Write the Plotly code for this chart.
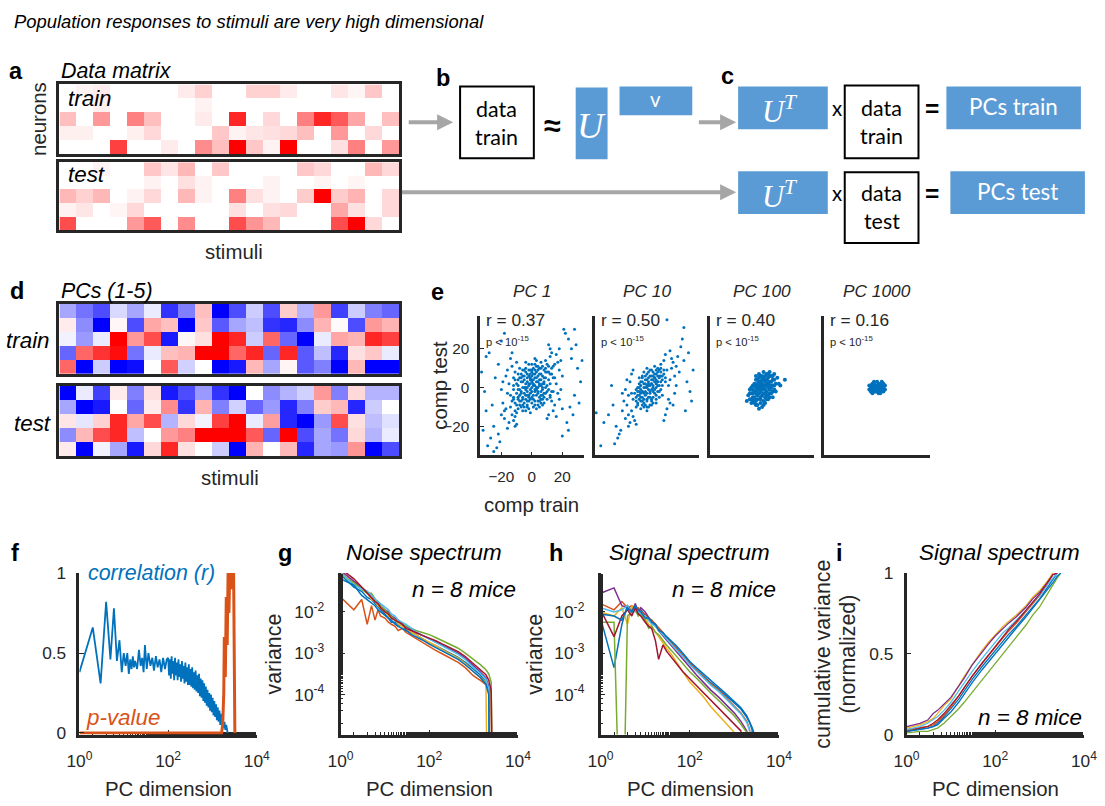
import plotly.graph_objects as go

# ---------------------------------------------------------------- geometry / style
# Positions below are written on a 1105 x 806 layout grid; LAYOUT_* maps that
# grid onto the figure canvas (which sits inside the page body margin).
FW, FH = 1110, 806
BODY_MARGIN = 8
LAYOUT_SX, LAYOUT_SY = 0.98, 0.978
LAYOUT_OX, LAYOUT_OY = 2.5, 0.5
FONT_K = 1 / LAYOUT_SX

INK = "#262626"
SANS = "Liberation Sans, Arial, sans-serif"
DIAG = "Lato, Open Sans, sans-serif"
SERIF = "Liberation Serif, DejaVu Serif, serif"
BOX_BLUE = "#5B9BD5"
ARROW_GRAY = "#A6A6A6"
PT_BLUE = "#0072BD"
MOUSE_COLORS = ["#0072BD", "#D95319", "#EDB120", "#7E2F8E",
                "#77AC30", "#4DBEEE", "#A2142F", "#0072BD"]

# ---------------------------------------------------------------- data
# (a) neural responses, 5 neurons x 20 stimuli (0 = none, 1 = max)
resp_train = [
    [0, 0.05, 0.08, 0, 0, 0, 0, 0.08, 0.18, 0, 0, 0.18, 0.18, 0.08, 0, 0, 0.10, 0.04, 0.22, 0],
    [0, 0, 0.06, 0, 0, 0, 0, 0, 0.05, 0, 0, 0, 0, 0, 0, 0, 0, 0, 0, 0],
    [0.25, 0, 0.40, 0, 0.50, 0.25, 0, 0, 0.08, 0, 0.85, 0, 0.15, 0, 0.50, 0.85, 0.65, 0.35, 0, 0.25],
    [0.06, 0.06, 0, 0, 0.06, 0.15, 0, 0, 0, 0.22, 0.05, 0.10, 0.12, 0.15, 0.25, 0, 0.40, 0, 0.15, 0],
    [0, 0, 0, 0.75, 0, 0, 0.08, 0, 0.45, 0.25, 1.0, 0.22, 0.05, 1.0, 0, 0, 0.12, 0.50, 0, 0.40],
]
resp_test = [
    [0, 0, 0.05, 0, 0, 0.22, 0.10, 0.28, 0, 0.22, 0, 0, 0, 0, 0.22, 0.15, 0, 0, 0.28, 0.15],
    [0, 0, 0, 0, 0, 0.05, 0, 0.12, 0.05, 0, 0, 0, 0.05, 0, 0, 0.04, 0, 0.04, 0, 0],
    [0.28, 0.18, 0.28, 0, 0.05, 0.15, 0, 0.28, 0.05, 0, 0.50, 0.12, 0.05, 0, 0.20, 1.0, 0.20, 0.30, 0, 0.15],
    [0.05, 0.10, 0, 0.04, 0.15, 0, 0, 0, 0, 0, 0.12, 0, 0.12, 0.15, 0, 0, 0.35, 0.12, 0, 0.15],
    [0.70, 0, 0, 0, 0.40, 0.65, 0, 0.45, 0, 0, 0.70, 0.42, 0.28, 0, 0, 0, 0.70, 1.0, 0.15, 0],
]

# (d) first five PCs, 5 PCs x 20 stimuli (signed, -1 .. 1)
pcs_train = [
    [-0.35, -0.55, -0.70, -0.15, -0.35, -0.08, -0.80, -0.50, 0.25, -1.0, -0.70, -0.20, -0.70, 0.20, -0.30, 0.40, -0.75, -0.20, -0.50, -0.60],
    [0.08, -0.45, -1.0, 0.03, -0.70, 0.35, 0.25, -1.0, 0.22, -0.65, -0.35, -0.25, -0.80, -0.85, -0.45, 0.30, 0.02, -0.70, 0.40, 0.30],
    [-0.05, -0.40, -0.08, 1.0, 0.40, 0.70, -0.90, 0.03, 0.12, 1.0, 0.85, -0.20, 0.60, -0.60, -1.0, -0.08, 0.35, 0.30, 0.85, 0.75],
    [-0.60, 0.60, 0.80, 0.95, -0.55, -0.08, 0.25, 0.30, 1.0, 1.0, 0.60, 0.85, -0.60, 0.85, -0.65, -0.25, -0.85, 0.12, 0.22, -0.08],
    [0.60, -1.0, -0.20, -1.0, -0.95, 0.0, 0.65, -0.18, 0.0, -1.0, -0.90, 0.28, -0.35, 0.04, -0.65, -0.50, -1.0, 0.28, -1.0, -1.0],
]
pcs_test = [
    [-1.0, -0.08, -0.75, 0.08, -0.50, 0.12, -0.90, -0.70, -0.40, -0.80, -1.0, 0.0, -0.45, -0.30, -0.18, 0.40, -0.50, 0.15, -0.30, -0.30],
    [-0.35, -1.0, -0.90, 0.0, -0.60, 0.08, 0.45, -0.80, 0.30, -0.50, -0.18, -0.60, -0.40, -0.85, -0.50, 0.20, 0.28, -0.85, -0.20, 0.0],
    [0.10, -0.10, 0.18, 0.85, 0.35, 0.70, -0.30, 0.15, -0.05, 0.75, 1.0, -0.08, 0.38, -0.85, -1.0, -0.40, 0.70, 0.12, -0.25, -0.12],
    [-0.45, 0.28, 0.70, 0.85, -0.25, 0.0, 0.40, 0.50, 1.0, 1.0, 1.0, 0.65, -0.60, 1.0, -0.70, -0.35, -0.55, 0.15, -0.30, -0.08],
    [0.08, -1.0, -0.05, -0.35, -0.90, 0.15, 0.85, 0.12, 0.0, -0.20, -1.0, 0.30, 0.0, 0.28, -0.85, -0.35, -0.40, 0.42, -1.0, -0.70],
]

# (e) component score on train vs test repeats, (train, test)
pc1_scores = [
    (-3, -2), (2, 1), (5, 4), (-6, -5), (0, 3), (4, -2), (-2, 6), (7, 2), (-8, -1), (1, -6),
    (3, 8), (-4, 2), (6, -4), (-1, -3), (9, 5), (-7, 3), (2, -9), (-5, -8), (8, 9), (0, 0),
    (-3, 7), (4, 3), (-9, -6), (6, 7), (1, 4), (-2, -7), (10, 1), (-6, 0), (3, -4), (-1, 9),
    (7, -1), (-4, -4), (5, 10), (-8, 5), (2, -2), (-10, -9), (8, 3), (0, -5), (-5, 4), (4, 6),
    (-3, -10), (9, -3), (1, 7), (-7, -3), (6, 1), (-2, 2), (3, 11), (-9, 1), (5, -7), (0, 8),
    (-4, -1), (7, 6), (-6, -9), (2, 5), (-1, -1), (11, 8), (-8, -7), (4, 0), (-3, 5), (6, -8),
    (1, 2), (-5, 9), (8, -5), (-2, -4), (3, 3), (-7, 7), (10, -2), (0, -8), (-4, 10), (5, 2),
    (-1, 4), (9, 10), (-6, -6), (2, 9), (-3, 0), (7, -6), (-9, 4), (4, -9), (0, 6), (-2, -11),
    (-1, 2), (3, -1), (5, 7), (-4, -6), (8, 5), (-7, -2), (2, 12), (-3, -9), (11, 4), (-10, -3),
    (6, -2), (-5, 6), (0, -2), (4, 9), (-8, -9), (12, 7), (-2, 1), (7, 11), (-11, -8), (1, -4),
    (9, 0), (-6, 3), (3, 5), (-1, -6), (13, 10), (-9, -11), (5, -5), (-4, 8), (10, 12), (-12, -5),
    (2, -7), (6, 4), (-3, -4), (8, -3), (-7, 5), (1, 10), (-5, -3), (11, -1), (-9, 7), (4, -3),
    (-2, 12), (7, -9), (0, 4), (-6, -12), (12, 2), (-4, 0), (3, 14), (-10, 2), (9, 8), (-1, -13),
    (5, 1), (-8, -4), (2, 7), (-3, 3), (10, -6), (-6, 9), (6, 13), (-11, -12), (1, -10), (8, 2),
    (-5, 0), (4, 11), (-2, -5), (11, 11), (-9, -1), (3, -11), (-7, -7), (13, -2), (0, 9), (-4, 13),
    (7, 0), (-1, 7), (5, -10), (-12, 1), (9, 14), (-3, -7), (2, -1), (-8, 10), (6, -6), (-10, -13),
    (14, 5), (-5, -10), (1, 1), (8, -8), (-6, 6), (4, -7), (-2, 9), (10, 8), (-7, -10), (3, 0),
    (12, -4), (-9, -5), (0, 12), (-11, 4), (6, 10), (-4, -12), (2, 15), (-13, -7), (7, -4), (-1, 5),
    (-14, -10), (15, 12), (-12, 5), (13, -7), (-16, -3), (18, 9), (-11, -15), (12, 16), (-18, -12), (16, 2),
    (-13, 11), (14, -12), (-15, -18), (19, 14), (-10, 13), (11, -14), (-17, 6), (17, -3), (-12, -6), (13, 18),
    (-19, -8), (20, 6), (-14, 15), (15, -9), (-11, -20), (12, 20), (-16, 9), (18, -6), (-13, -14), (14, 11),
    (-20, -1), (16, 17), (-12, -17), (10, -16), (-15, 2), (19, -1), (-18, -16), (13, 7), (-10, -19), (17, 13),
    (-14, -4), (11, 22), (-17, -11), (20, -11), (-11, 8), (15, 5), (-19, 3), (12, -5), (-13, 18), (18, 20),
    (-16, -21), (14, -2), (-12, -1), (16, -15), (-20, -14),
    (-25, -20), (26, 15), (-22, 12), (28, -4), (-30, -12), (24, 25), (-27, -26), (30, 10), (-24, 5), (23, -18),
    (-32, -22), (29, 22), (-21, -28), (25, -10), (-28, 18), (32, 3), (-26, -9), (22, 28), (-23, -31), (27, -14),
    (-31, -2), (21, 30), (-20, 24), (31, -8), (-29, -30), (26, 20), (-22, -24), (24, -22), (-33, 8), (33, 14),
    (-25, -33), (20, -25), (-18, 28), (28, 30), (-30, 16),
]
pc10_scores = [
    (0, 0), (3, 2), (-2, -3), (5, 5), (-4, 1), (2, -5), (7, 3), (-1, 4), (4, -2), (-5, -4),
    (6, 7), (1, -1), (-3, 3), (8, 1), (0, -6), (3, 6), (-6, -2), (5, -3), (2, 9), (-2, -8),
    (9, 6), (-4, -7), (6, 0), (1, 3), (-7, -5), (4, 8), (0, -3), (7, -2), (-3, 6), (10, 4),
    (-1, -9), (3, -7), (-5, 2), (8, 9), (2, 1), (-6, -8), (5, 3), (-2, 0), (11, 7), (0, 7),
    (4, -5), (-4, -1), (7, 10), (1, -10), (-8, -3), (6, -6), (3, 4), (-1, 2), (9, -1), (-3, -5),
    (12, 3), (2, -2), (-5, 5), (5, 11), (0, -12), (8, 5), (-7, -10), (4, 1), (-2, 8), (10, -4),
    (1, 5), (-4, -11), (6, 4), (-6, 0), (3, -9), (9, 12), (-3, -2), (7, 6), (0, 10), (-9, -6),
    (1, 1), (4, 4), (-3, -2), (6, 2), (-1, -4), (3, -1), (8, 6), (-5, -6), (2, 6), (0, -7),
    (5, -1), (-2, 2), (9, 3), (-4, -3), (7, 8), (1, -5), (-6, -4), (4, 0), (3, 9), (-1, -2),
    (10, 6), (-3, -9), (6, -4), (0, 4), (-7, -7), (5, 7), (2, -3), (-4, 3), (8, -2), (-2, -6),
    (11, 9), (1, 2), (-5, 0), (7, 1), (3, -6), (-1, 6), (9, 8), (-6, -9), (4, -8), (0, 1),
    (6, 9), (-3, 5), (2, -9), (8, -5), (-2, -10), (5, 5), (-5, -2), (10, 1), (1, 8), (-4, -5),
    (7, 3), (-1, 0), (3, 2), (-7, -1), (12, 5), (0, -10), (4, 6), (-3, -7), (9, 10), (6, -8),
    (13, 9), (-10, -12), (15, 4), (-12, -4), (11, 14), (-9, -15), (16, 10), (-11, 3), (14, -6), (-13, -9),
    (12, 17), (-8, -17), (17, 13), (-14, -1), (15, -8), (-10, 7), (18, 6), (-12, -14), (13, -11), (-15, -7),
    (16, 15), (-7, -19), (19, 11), (-11, -18), (14, 1), (-13, 4), (12, -14), (-16, -12), (18, -3), (-9, 9),
    (20, 16), (-14, -16), (17, -9), (-12, -20), (15, 19), (-10, -3), (21, 8), (-16, -3), (11, -17), (19, 1),
    (-20, -20), (24, 14), (-22, -9), (26, 3), (-18, -24), (22, 21), (-25, -14), (28, -2), (-23, 1), (25, -12),
    (-19, -26), (30, 9), (-21, -29), (23, 25), (-30, -30), (27, 18), (-17, -22), (29, -7), (-28, -18), (24, 31),
    (13, 35), (-33, -13),
]
pc100_scores = [
    (0, 0), (2, 1), (-2, -1), (4, 2), (-4, -3), (1, -3), (3, 4), (-1, 3), (5, -1), (-3, 1),
    (6, 3), (-5, -2), (2, -5), (-2, 5), (7, 1), (-6, -5), (0, 6), (1, -7), (4, -4), (-4, 4),
    (8, 4), (-7, -3), (3, 7), (-1, -8), (6, -3), (-5, 2), (9, 2), (-8, -6), (5, 6), (-3, -6),
    (2, 3), (-2, -3), (7, -2), (-6, 1), (0, -4), (4, 5), (-4, -7), (8, -1), (-7, -8), (3, -2),
    (-1, 1), (6, 6), (-5, -5), (1, 4), (-3, -1), (10, 5), (-9, -4), (5, 1), (-2, 7), (2, -8),
    (7, 4), (-6, -1), (0, 2), (4, -6), (-4, 0), (8, 7), (-8, -1), (3, 1), (-1, -5), (9, -2),
    (-7, 0), (5, -5), (-3, 4), (1, 8), (-5, -8), (6, 0), (0, -10), (-2, 2), (3, -4), (11, 2),
    (-10, -7), (5, 8), (-4, 6), (7, -5), (2, 6), (-6, -7), (12, 1), (1, 0), (-3, -9), (4, 3),
    (1, 1), (-1, -2), (3, 2), (-3, -4), (2, -1), (-2, 3), (5, 3), (-5, -6), (0, -1), (4, 0),
    (-4, -2), (1, 5), (-1, -6), (6, 1), (-6, -3), (3, -6), (-3, 2), (7, 6), (-7, -6), (0, 4),
    (2, -3), (-2, 0), (5, -3), (-5, 1), (4, 7), (-4, -9), (8, 1), (-8, -3), (1, -9), (-1, 6),
    (15, 4), (-2, -11),
]
pc1000_scores = [
    (0, 0), (1, 1), (-1, -1), (2, 0), (-2, 1), (0, -2), (3, 1), (-3, -1), (1, 2), (-1, -2),
    (4, 0), (-4, 1), (2, -2), (-2, 2), (3, -1), (-3, 0), (0, 3), (1, -3), (5, 1), (-5, -1),
    (2, 2), (-2, -2), (4, -2), (-4, -2), (3, 3), (-3, 2), (1, 0), (-1, 0), (0, 1), (0, -1),
    (5, -1), (-5, 1), (2, -3), (-2, 3), (4, 2), (-4, 0), (3, 0), (-3, -3), (1, -1), (-1, 1),
]
pc_titles = ["PC 1", "PC 10", "PC 100", "PC 1000"]
pc_r = ["0.37", "0.50", "0.40", "0.16"]

# (f) train/test correlation of each PC, and its p-value
corr_by_dim = [
    (1, 0.38), (2, 0.66), (3, 0.31), (4, 0.82), (5, 0.46), (6, 0.78), (7, 0.45), (8, 0.58), (9, 0.38), (10, 0.50),
    (11, 0.42), (12, 0.50), (13, 0.37), (14, 0.46), (15, 0.40), (16, 0.48), (17, 0.41), (18, 0.45), (20, 0.40), (22, 0.52),
    (24, 0.42), (26, 0.47), (28, 0.38), (30, 0.55), (33, 0.40), (36, 0.50), (40, 0.42), (44, 0.47), (48, 0.39), (53, 0.48),
    (58, 0.41), (64, 0.46), (70, 0.38), (77, 0.47), (85, 0.40), (93, 0.46),
    (100, 0.47), (105, 0.36), (110, 0.46), (115, 0.34), (120, 0.48), (125, 0.37), (131, 0.45), (137, 0.33),
    (143, 0.47), (150, 0.36), (157, 0.44), (164, 0.33), (171, 0.46), (179, 0.35), (187, 0.43), (196, 0.32),
    (205, 0.45), (214, 0.34), (224, 0.42), (234, 0.31), (245, 0.44), (256, 0.32), (268, 0.41), (280, 0.30),
    (293, 0.43), (306, 0.30), (320, 0.40), (334, 0.29), (349, 0.41), (365, 0.28), (382, 0.38), (399, 0.27),
    (417, 0.39), (436, 0.26), (456, 0.36), (476, 0.25), (498, 0.37), (520, 0.23), (544, 0.34), (568, 0.22),
    (594, 0.33), (621, 0.20), (649, 0.31), (678, 0.19), (709, 0.29), (741, 0.17), (774, 0.27), (809, 0.16),
    (846, 0.25), (884, 0.14), (924, 0.24), (965, 0.13), (1009, 0.22), (1054, 0.11), (1102, 0.20), (1151, 0.10),
    (1203, 0.18), (1257, 0.08), (1314, 0.16), (1373, 0.07), (1435, 0.14), (1500, 0.05), (1567, 0.12), (1638, 0.04),
    (1711, 0.10), (1788, 0.03), (1869, 0.07), (1953, 0.02), (2041, 0.05), (2133, 0.01), (2200, 0.0),
]
pval_by_dim = [
    (1, 0), (1600, 0), (1700, 0.05), (1800, 0.25), (1850, 0.60), (1950, 0.35), (2050, 0.85), (2150, 0.55),
    (2250, 1.0), (2350, 0.75), (2450, 1.0), (2600, 0.90), (2700, 1.0), (2850, 0.97), (3000, 1.0), (3100, 0.20), (3200, 0),
]

# (g, h) spectra: log10(variance) per mouse at these PC dimensions
spec_dims = [1, 2, 3, 4, 5, 6, 7, 8, 10, 12, 14, 17, 20, 25, 30, 40, 50, 70, 100, 140,
             200, 300, 450, 650, 1000, 1400, 1900, 2200, 2500, 2800, 3000]
noise_log10 = [
    [-1.10, -1.40, -1.50, -1.65, -1.70, -1.80, -1.90, -1.95, -2.05, -2.15, -2.20, -2.30, -2.35, -2.30, -2.45, -2.50, -2.55, -2.65, -2.75, -2.82, -2.90, -3.00, -3.10, -3.22, -3.40, -3.52, -3.70, -3.90, -9],
    [-1.64, -1.95, -1.70, -2.30, -1.85, -2.20, -1.95, -2.10, -2.15, -2.25, -2.30, -2.35, -2.45, -2.40, -2.50, -2.58, -2.65, -2.75, -2.85, -2.93, -3.02, -3.12, -3.22, -3.35, -3.55, -3.65, -3.76, -3.85, -3.95, -9],
    [-1.05, -1.30, -1.45, -1.55, -1.70, -1.75, -1.85, -1.90, -2.00, -2.10, -2.15, -2.20, -2.30, -2.35, -2.40, -2.50, -2.55, -2.65, -2.73, -2.82, -2.92, -3.02, -3.12, -3.25, -3.45, -3.58, -3.72, -9],
    [-1.00, -1.25, -1.40, -1.50, -1.60, -1.70, -1.75, -1.85, -1.95, -2.00, -2.10, -2.15, -2.20, -2.30, -2.35, -2.42, -2.50, -2.57, -2.65, -2.72, -2.80, -2.90, -3.00, -3.12, -3.30, -3.45, -3.60, -3.80, -9],
    [-1.10, -1.30, -1.45, -1.55, -1.55, -1.70, -1.80, -1.85, -1.95, -2.05, -2.10, -2.20, -2.25, -2.30, -2.35, -2.40, -2.45, -2.50, -2.55, -2.62, -2.70, -2.78, -2.88, -3.00, -3.15, -3.27, -3.40, -3.50, -3.70, -9],
    [-1.05, -1.35, -1.45, -1.50, -1.60, -1.70, -1.75, -1.80, -1.90, -1.95, -2.05, -2.10, -2.20, -2.25, -2.30, -2.40, -2.48, -2.57, -2.66, -2.75, -2.83, -2.93, -3.03, -3.15, -3.35, -3.48, -3.63, -3.85, -9],
    [-0.95, -1.20, -1.40, -1.55, -1.65, -1.75, -1.80, -1.90, -2.00, -2.05, -2.15, -2.20, -2.25, -2.30, -2.40, -2.45, -2.50, -2.57, -2.63, -2.70, -2.78, -2.87, -2.96, -3.08, -3.25, -3.38, -3.52, -3.65, -3.90, -9],
    [-1.20, -1.35, -1.60, -1.70, -1.80, -1.85, -1.95, -2.00, -2.10, -2.15, -2.25, -2.25, -2.35, -2.40, -2.45, -2.55, -2.60, -2.68, -2.78, -2.86, -2.95, -3.05, -3.15, -3.28, -3.45, -3.58, -3.75, -4.00, -9],
]
signal_log10 = [
    [-2.15, -3.35, -2.30, -1.85, -1.95, -1.90, -2.05, -1.95, -2.10, -2.20, -2.20, -2.35, -2.40, -2.55, -2.60, -2.75, -2.85, -3.05, -3.25, -3.40, -3.55, -3.72, -3.87, -4.02, -4.20, -4.35, -4.55, -4.68, -4.85, -9],
    [-1.80, -1.95, -1.75, -1.90, -1.85, -1.95, -1.90, -2.00, -2.05, -2.15, -2.20, -2.30, -2.40, -2.50, -2.62, -2.75, -2.88, -3.05, -3.25, -3.40, -3.57, -3.75, -3.90, -4.07, -4.27, -4.45, -4.65, -4.85, -9],
    [-2.00, -2.10, -1.90, -2.30, -1.85, -2.00, -1.95, -2.10, -2.15, -2.30, -2.35, -2.50, -2.60, -2.75, -2.88, -3.05, -3.20, -3.45, -3.70, -3.88, -4.05, -4.30, -4.50, -4.70, -4.92, -9],
    [-1.55, -1.42, -1.85, -1.90, -2.00, -1.80, -2.00, -1.90, -2.00, -2.15, -2.25, -2.30, -2.45, -2.58, -2.68, -2.85, -2.97, -3.15, -3.35, -3.52, -3.70, -3.90, -4.07, -4.25, -4.45, -4.65, -4.88, -9],
    [-2.25, -2.25, -9, -2.10, -2.00, -1.95, -2.10, -2.05, -2.20, -2.40, -2.35, -2.50, -2.55, -2.70, -2.80, -2.95, -3.07, -3.25, -3.45, -3.60, -3.78, -3.97, -4.15, -4.33, -4.52, -4.72, -4.92, -9],
    [-1.90, -2.00, -1.95, -1.85, -2.05, -1.95, -2.00, -2.05, -2.10, -2.20, -2.30, -2.35, -2.45, -2.55, -2.65, -2.80, -2.92, -3.08, -3.28, -3.43, -3.60, -3.78, -3.93, -4.10, -4.30, -4.47, -4.68, -4.88, -9],
    [-1.95, -2.60, -2.10, -1.95, -2.10, -1.90, -2.05, -2.10, -2.25, -2.35, -2.40, -2.70, -3.15, -2.80, -2.95, -3.12, -3.27, -3.45, -3.62, -3.78, -3.95, -4.15, -4.33, -4.50, -4.70, -4.88, -9],
    [-2.05, -2.10, -2.20, -1.90, -2.00, -1.85, -1.95, -2.00, -2.15, -2.15, -2.25, -2.30, -2.45, -2.50, -2.60, -2.72, -2.82, -3.00, -3.20, -3.35, -3.50, -3.68, -3.83, -3.98, -4.17, -4.32, -4.52, -4.65, -4.80, -4.95, -9],
]

# (i) cumulative signal variance, normalized per mouse
cum_dims = [1, 2, 3, 4, 5, 7, 10, 15, 20, 30, 50, 70, 100, 150, 200, 300, 500, 700, 1000, 1500, 2000, 2500, 3000]
cum_var = [
    [0.02, 0.03, 0.04, 0.05, 0.07, 0.11, 0.16, 0.22, 0.27, 0.34, 0.42, 0.47, 0.52, 0.58, 0.62, 0.67, 0.74, 0.79, 0.84, 0.91, 0.96, 1.0],
    [0.03, 0.04, 0.05, 0.06, 0.08, 0.12, 0.17, 0.24, 0.29, 0.36, 0.44, 0.49, 0.54, 0.60, 0.64, 0.69, 0.76, 0.81, 0.86, 0.93, 1.0],
    [0.04, 0.06, 0.08, 0.10, 0.13, 0.18, 0.22, 0.30, 0.36, 0.43, 0.52, 0.57, 0.62, 0.67, 0.70, 0.74, 0.80, 0.85, 0.89, 0.95, 1.0],
    [0.05, 0.07, 0.09, 0.13, 0.15, 0.19, 0.23, 0.30, 0.35, 0.43, 0.51, 0.56, 0.61, 0.66, 0.69, 0.73, 0.79, 0.84, 0.88, 0.94, 0.99, 1.0],
    [0.01, 0.02, 0.02, 0.03, 0.04, 0.07, 0.11, 0.16, 0.20, 0.26, 0.34, 0.39, 0.44, 0.50, 0.54, 0.60, 0.68, 0.74, 0.79, 0.87, 0.93, 0.97, 1.0],
    [0.03, 0.05, 0.07, 0.09, 0.11, 0.15, 0.20, 0.27, 0.32, 0.39, 0.47, 0.52, 0.57, 0.63, 0.66, 0.71, 0.77, 0.82, 0.86, 0.93, 0.97, 1.0],
    [0.02, 0.04, 0.05, 0.07, 0.09, 0.13, 0.18, 0.24, 0.29, 0.36, 0.44, 0.49, 0.55, 0.61, 0.65, 0.70, 0.77, 0.82, 0.87, 0.94, 0.99, 1.0],
    [0.02, 0.03, 0.04, 0.05, 0.06, 0.10, 0.14, 0.20, 0.25, 0.32, 0.40, 0.45, 0.50, 0.56, 0.60, 0.66, 0.73, 0.78, 0.83, 0.89, 0.94, 0.98, 1.0],
]

log_ticks = [1, 100, 10000]
log_ticktext = ["10<sup>0</sup>", "10<sup>2</sup>", "10<sup>4</sup>"]
var_ticks = [1e-4, 1e-3, 1e-2]
var_ticktext = ["10<sup>-4</sup>", "10<sup>-3</sup>", "10<sup>-2</sup>"]


# ---------------------------------------------------------------- helpers
def cx(x):
    """layout-grid x -> figure pixel"""
    return (x - LAYOUT_OX) / LAYOUT_SX - BODY_MARGIN


def cy(y):
    """layout-grid y -> figure pixel (from top)"""
    return (y - LAYOUT_OY) / LAYOUT_SY - BODY_MARGIN


def px(x):
    return cx(x) / FW


def py(y):
    return 1 - cy(y) / FH


def fs(size):
    return round(size * FONT_K, 1)


layout = dict(width=FW, height=FH, autosize=False, margin=dict(l=0, r=0, t=0, b=0),
              paper_bgcolor="white", plot_bgcolor="white", showlegend=False)
traces = []
annotations = []
shapes = []


def add_axes(n, x0, x1, y0, y1, xcfg, ycfg):
    s = "" if n == 1 else str(n)
    layout["xaxis" + s] = dict(domain=[px(x0), px(x1)], anchor="y" + s, **xcfg)
    layout["yaxis" + s] = dict(domain=[py(y1), py(y0)], anchor="x" + s, **ycfg)
    return "x" + s, "y" + s


def text(x, y, s, size, color=INK, family=SANS, xanchor="center", yanchor="middle", angle=0):
    annotations.append(dict(x=px(x), y=py(y), xref="paper", yref="paper", text=s,
                            showarrow=False, textangle=angle, xanchor=xanchor, yanchor=yanchor,
                            font=dict(size=fs(size), color=color, family=family)))


def rect(x0, y0, x1, y1, fill, edge=None, lw=0):
    shapes.append(dict(type="rect", xref="paper", yref="paper",
                       x0=px(x0), x1=px(x1), y0=py(y1), y1=py(y0), fillcolor=fill,
                       line=dict(color=edge or fill, width=lw)))


def arrow(x0, y0, x1, y1):
    annotations.append(dict(x=px(x1), y=py(y1), xref="paper", yref="paper", text="",
                            showarrow=True, ax=cx(x0) - cx(x1), ay=cy(y0) - cy(y1),
                            axref="pixel", ayref="pixel",
                            arrowhead=2, arrowsize=0.8, arrowwidth=4, arrowcolor=ARROW_GRAY,
                            standoff=0))


# ---------------------------------------------------------------- heatmaps (a, d)
frame = dict(showticklabels=False, ticks="", showgrid=False, zeroline=False,
             showline=True, mirror=True, linecolor=INK, linewidth=3)
heat_x = dict(range=[-0.5, 19.5], **frame)
heat_y = dict(range=[4.5, -0.5], **frame)
reds = [[0, "rgb(255,255,255)"], [1, "rgb(255,0,0)"]]
bwr = [[0, "rgb(0,0,255)"], [0.5, "rgb(255,255,255)"], [1, "rgb(255,0,0)"]]

heat_panels = [
    (resp_train, reds, 0, 1, (57, 398, 83, 153)),
    (resp_test, reds, 0, 1, (57, 398, 161, 229)),
    (pcs_train, bwr, -1, 1, (57, 398, 303, 373)),
    (pcs_test, bwr, -1, 1, (57, 398, 385, 456)),
]
for i, (z, cs, lo, hi, (x0, x1, y0, y1)) in enumerate(heat_panels, start=1):
    xa, ya = add_axes(i, x0, x1, y0, y1, heat_x, heat_y)
    traces.append(go.Heatmap(z=z, colorscale=cs, zmin=lo, zmax=hi, showscale=False,
                             hoverinfo="skip", xaxis=xa, yaxis=ya))

# ---------------------------------------------------------------- scatter panels (e)
tick_font = dict(size=fs(15), family=SANS, color=INK)
scatter_sets = [pc1_scores, pc10_scores, pc100_scores, pc1000_scores]
scatter_boxes = [(479, 583), (594, 699), (710, 814), (824, 931)]
marker_sizes = [3, 3, 4, 4]
for k, (pts, (x0, x1)) in enumerate(zip(scatter_sets, scatter_boxes)):
    first = k == 0
    base = dict(showgrid=False, zeroline=False, showline=True, linecolor=INK, linewidth=2.5,
                ticks="inside" if first else "", ticklen=4, tickcolor=INK,
                showticklabels=first, tickfont=tick_font, ticklabelstandoff=5)
    xcfg = dict(range=[-34, 34], tickvals=[-20, 0, 20], **base)
    ycfg = dict(range=[-35, 37], tickvals=[-20, 0, 20], **base)
    xa, ya = add_axes(5 + k, x0, x1, 315, 455, xcfg, ycfg)
    tr, te = zip(*pts)
    traces.append(go.Scatter(x=list(tr), y=list(te), mode="markers", hoverinfo="skip",
                             marker=dict(size=marker_sizes[k], color=PT_BLUE, line=dict(width=0)),
                             xaxis=xa, yaxis=ya))
    text((x0 + x1) / 2, 290, "<i>" + pc_titles[k] + "</i>", 17)
    text(x0 + 4, 319, "r = " + pc_r[k], 17, xanchor="left")
    text(x0 + 4, 340, "p &lt; 10<sup>-15</sup>", 11, xanchor="left")

# ---------------------------------------------------------------- line panels (f - i)
axis_font = dict(size=fs(17), family=SANS, color=INK)
minor_ticks = dict(ticks="inside", ticklen=3, tickwidth=1, tickcolor=INK, showgrid=False)


def log_x(layer="above traces"):
    return dict(type="log", range=[0, 4], tickvals=log_ticks, ticktext=log_ticktext,
                ticks="inside", ticklen=5, tickwidth=1, tickcolor=INK, showline=True,
                linecolor=INK, linewidth=2.5, showgrid=False, zeroline=False,
                tickfont=axis_font, layer=layer, ticklabelstandoff=9, minor=minor_ticks)


def lin_y(lo=0):
    return dict(range=[lo, 1], tickvals=[0, 0.5, 1], ticktext=["0", "0.5", "1"], ticks="inside",
                ticklen=5, tickwidth=1, tickcolor=INK, showline=True, linecolor=INK,
                linewidth=2.5, showgrid=False, zeroline=False, tickfont=axis_font,
                ticklabelstandoff=7)


log_y = dict(type="log", range=[-4.97, -1.06], tickvals=var_ticks, ticktext=var_ticktext,
             ticks="inside", ticklen=5, tickwidth=1, tickcolor=INK, showline=True, linecolor=INK,
             linewidth=2.5, showgrid=False, zeroline=False, tickfont=axis_font,
             ticklabelstandoff=10, minor=minor_ticks)

# f
xa, ya = add_axes(9, 77, 255, 573, 735, log_x("below traces"), lin_y(-0.01))
cd, cr = zip(*corr_by_dim)
traces.append(go.Scatter(x=list(cd), y=list(cr), mode="lines", hoverinfo="skip",
                         line=dict(color="#0072BD", width=1.8), xaxis=xa, yaxis=ya))
pd_, pv = zip(*pval_by_dim)
traces.append(go.Scatter(x=list(pd_), y=list(pv), mode="lines", hoverinfo="skip",
                         line=dict(color="#D95319", width=3), xaxis=xa, yaxis=ya))

# g, h
for n, series, (x0, x1) in [(10, noise_log10, (339, 517)), (11, signal_log10, (600, 779))]:
    xa, ya = add_axes(n, x0, x1, 573, 735, log_x(), log_y)
    for m, vals in enumerate(series):
        pairs = [(d, 10 ** v) for d, v in zip(spec_dims, vals)]
        traces.append(go.Scatter(x=[p[0] for p in pairs], y=[p[1] for p in pairs],
                                 mode="lines", hoverinfo="skip",
                                 line=dict(color=MOUSE_COLORS[m], width=1.5),
                                 xaxis=xa, yaxis=ya))

# i
xa, ya = add_axes(12, 907, 1085, 573, 735, log_x(), lin_y())
for m, vals in enumerate(cum_var):
    pairs = list(zip(cum_dims, vals))
    traces.append(go.Scatter(x=[p[0] for p in pairs], y=[p[1] for p in pairs],
                             mode="lines", hoverinfo="skip",
                             line=dict(color=MOUSE_COLORS[m], width=1.3), xaxis=xa, yaxis=ya))

# ---------------------------------------------------------------- schematic (b, c)
rect(459, 85, 533, 157, "white", "black", 2)
rect(575, 86, 607, 158, BOX_BLUE)
rect(619, 85, 692, 114, BOX_BLUE)
rect(738, 85, 828, 128, BOX_BLUE)
rect(845, 84, 919, 157, "white", "black", 2)
rect(947, 85, 1082, 128, BOX_BLUE)
rect(738, 170, 828, 213, BOX_BLUE)
rect(845, 171, 919, 242, "white", "black", 2)
rect(951, 170, 1086, 213, BOX_BLUE)

arrow(407, 121, 452, 121)
arrow(698, 121, 736, 121)
arrow(407, 191, 736, 191)

text(496, 108, "data", 21, "black", DIAG)
text(496, 136, "train", 21, "black", DIAG)
text(552, 124, "<b>≈</b>", 30, "black", SANS)
text(591, 124, "<i>U</i>", 36, "white", SERIF)
text(655, 98, "v", 20, "white", DIAG)
for yy, word, pcs_word, pcs_x in [(107, "train", "PCs train", 1014), (192, "test", "PCs test", 1018)]:
    text(780, yy + 1, "<i>U<sup>T</sup></i>", 30, "white", SERIF)
    text(837, yy, "x", 20, "black", DIAG)
    text(882, yy, "data", 21, "black", DIAG)
    text(882, yy + 28, word, 21, "black", DIAG)
    text(933, yy, "<b>=</b>", 24, "black", SANS)
    text(pcs_x, yy - 2, pcs_word, 22, "white", DIAG)

# ---------------------------------------------------------------- labels
text(9, 20, "<i>Population responses to stimuli are very high dimensional</i>", 18,
     "black", xanchor="left")
for lx, ly, letter in [(13, 70, "a"), (442, 77, "b"), (727, 75, "c"), (14, 290, "d"),
                       (436, 291, "e"), (12, 553, "f"), (283, 553, "g"), (555, 553, "h"),
                       (840, 553, "i")]:
    text(lx, ly, "<b>" + letter + "</b>", 23, "black")

text(57, 70, "<i>Data matrix</i>", 21, "black", xanchor="left")
text(37, 118, "neurons", 20, angle=-90)
text(64, 97, "<i>train</i>", 22, "black", xanchor="left")
text(64, 173, "<i>test</i>", 22, "black", xanchor="left")
text(232, 251, "stimuli", 20)

text(57, 290, "<i>PCs (1-5)</i>", 21, "black", xanchor="left")
text(49, 340, "<i>train</i>", 22, "black", xanchor="right")
text(50, 423, "<i>test</i>", 22, "black", xanchor="right")
text(228, 478, "stimuli", 20)

text(438, 385, "comp test", 20, angle=-90)
text(531, 505, "comp train", 20)

text(84, 573, "<i>correlation (r)</i>", 21, "#0072BD", xanchor="left")
text(82, 718, "<i>p-value</i>", 22, "#D95319", xanchor="left")
for cxp in (166, 428, 690, 996):
    text(cxp, 790, "PC dimension", 20)
text(272, 654, "variance", 21, angle=-90)
text(534, 654, "variance", 21, angle=-90)
text(823, 654, "cumulative variance", 21, angle=-90)
text(848, 654, "(normalized)", 21, angle=-90)

text(423, 552, "<i>Noise spectrum</i>", 22, "black")
text(689, 552, "<i>Signal spectrum</i>", 22, "black")
text(1000, 552, "<i>Signal spectrum</i>", 22, "black")
text(517, 589, "<i>n = 8 mice</i>", 22, "black", xanchor="right")
text(778, 589, "<i>n = 8 mice</i>", 22, "black", xanchor="right")
text(1085, 718, "<i>n = 8 mice</i>", 22, "black", xanchor="right")

layout["annotations"] = annotations
layout["shapes"] = shapes

fig = go.Figure(data=traces, layout=layout)
fig.write_html("out.html")
